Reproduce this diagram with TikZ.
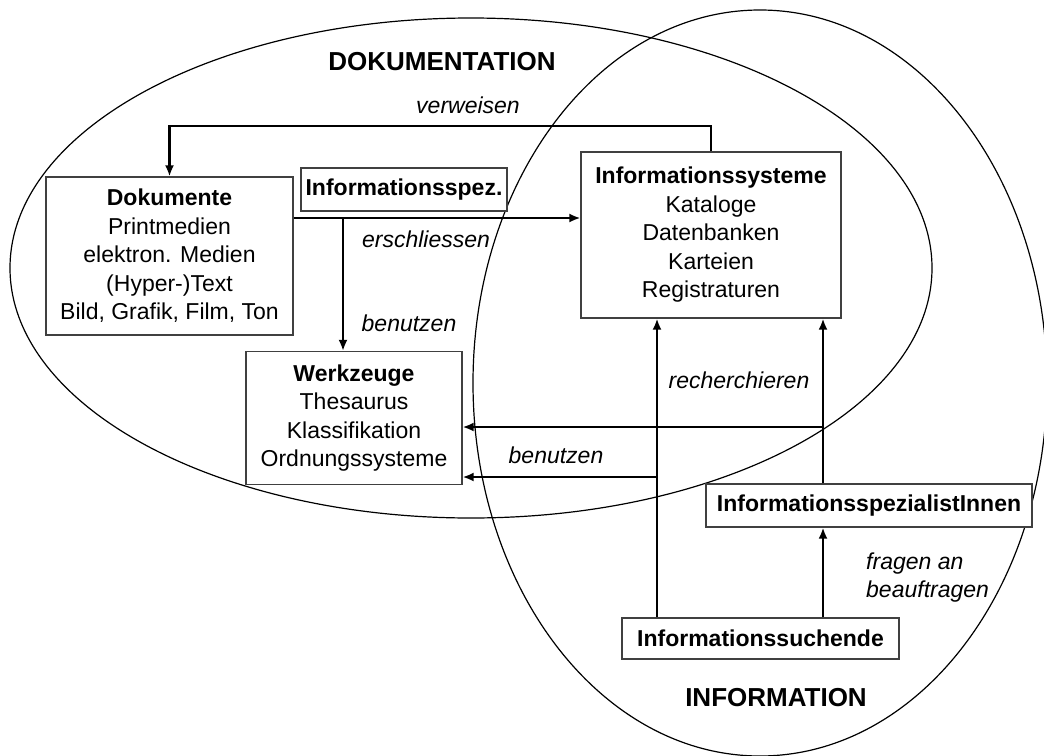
\documentclass[tikz,border=0pt]{standalone}
\usepackage{fontspec}
\setmainfont{Liberation Sans}
\usetikzlibrary{arrows.meta,calc}
\begin{document}
\begin{tikzpicture}[x=1pt,y=-1pt,
  box/.style={draw=black!75,line width=1.2pt,fill=white,align=center,inner sep=0pt,
    font=\fontsize{23}{28.5}\selectfont},
  conn/.style={line width=2.2pt},
  arr/.style={conn,-{Latex[length=11pt,width=9pt]}},
  lab/.style={font=\fontsize{23}{28}\selectfont\itshape,inner sep=0pt},
  heading/.style={font=\fontsize{26}{30}\selectfont\bfseries,inner sep=0pt},
  ring/.style={line width=1.2pt}]

\useasboundingbox (0,0) rectangle (1044,755);

% the two overlapping fields
\begin{scope}
  \clip (0,0) rectangle (1044,755);
  \draw[ring] (471,268) ellipse [x radius=461, y radius=250];
  \draw[ring] (760,383) ellipse [x radius=287, y radius=373];
\end{scope}

% boxes
\node[box,minimum width=247pt,minimum height=158pt] (dok) at (169.5,256)
  {\textbf{Dokumente}\\Printmedien\\elektron. Medien\\(Hyper-)Text\\Bild, Grafik, Film, Ton};
\node[box,minimum width=206pt,minimum height=43pt] (spz) at (404,189.5)
  {\textbf{Informationsspez.}};
\node[box,minimum width=260pt,minimum height=166pt] (is) at (711,235)
  {\textbf{Informationssysteme}\\Kataloge\\Datenbanken\\Karteien\\Registraturen};
\node[box,minimum width=216pt,minimum height=133pt] (wz) at (354,418)
  {\textbf{Werkzeuge}\\Thesaurus\\Klassifikation\\Ordnungssysteme};
\node[box,minimum width=326pt,minimum height=43pt] (spi) at (869,505.5)
  {\textbf{InformationsspezialistInnen}};
\node[box,minimum width=277pt,minimum height=41pt] (such) at (760.5,638.5)
  {\textbf{Informationssuchende}};

% routing helpers
\coordinate (vw) at (0,126);
\coordinate (er) at (0,218);
\coordinate (j1) at (343,218);
\coordinate (c1) at (657,0);
\coordinate (c2) at (823,0);
\coordinate (r1) at (0,427);
\coordinate (r2) at (0,477);

% connectors
\draw[arr] (is.north) -- (is.north |- vw) -| (dok.north);
\draw[arr] (dok.east |- er) -- (is.west |- er);
\draw[arr] (j1) -- (j1 |- wz.north);
\draw[arr] (such.north -| c1) -- (is.south -| c1);
\draw[arr] (c1 |- r2) -- (wz.east |- r2);
\draw[arr] (spi.north -| c2) -- (is.south -| c2);
\draw[arr] (c2 |- r1) -- (wz.east |- r1);
\draw[arr] (such.north -| c2) -- (spi.south -| c2);

% labels
\node[heading] (tdok) at (442,62) {DOKUMENTATION};
\node[heading] (tinf) at (776,698) {INFORMATION};
\node[lab] (lvw) at (468,105) {verweisen};
\node[lab] (ler) at (426,239) {erschliessen};
\node[lab] (lbn1) at (409,323) {benutzen};
\node[lab] (lre) at (739,380) {recherchieren};
\node[lab] (lbn2) at (556,455) {benutzen};
\node[lab,align=left,anchor=west] (lfr) at (866,578) {fragen an\\beauftragen};
\end{tikzpicture}
\end{document}
